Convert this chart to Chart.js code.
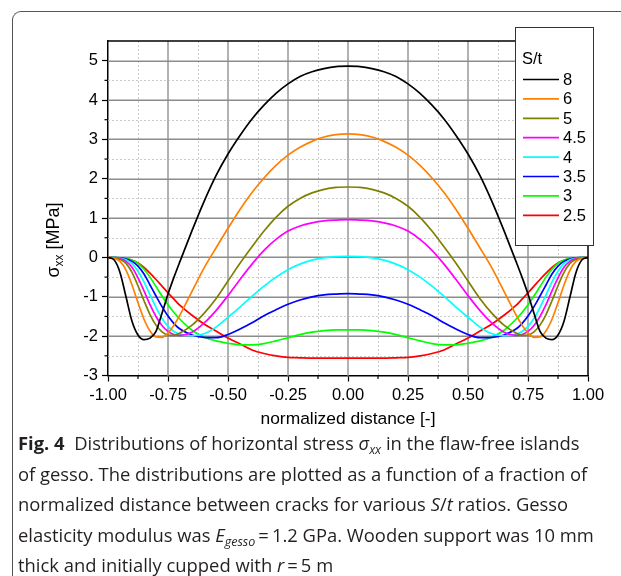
<!DOCTYPE html>
<html>
<head>
<meta charset="utf-8">
<script src="https://cdn.jsdelivr.net/npm/chart.js@4.4.0/dist/chart.umd.min.js"></script>
<style>
  html, body { margin: 0; padding: 0; background: #fff; }
  body { width: 621px; height: 576px; position: relative; overflow: hidden; }
  #frame { position: absolute; left: 12px; top: 11px; width: 640px; height: 600px;
    border-left: 1.3px solid #555; border-top: 1.3px solid #555;
    border-top-left-radius: 9px; box-sizing: border-box; }
  #chartBox { position: absolute; left: 0; top: 0; width: 621px; height: 440px; }
  #caption { position: absolute; left: 18px; top: 428px; font-family: 'Open Sans';
    font-size: 18.4px; line-height: 30.5px; color: #231f20; white-space: nowrap; }
  #caption sub { font-size: 0.68em; vertical-align: -0.35em; line-height: 0; }
</style>
</head>
<body>
<div id="frame"></div>
<div id="chartBox"><canvas id="graph" width="621" height="440"></canvas></div>
<div id="caption">
  <div><b>Fig. 4</b>&nbsp; Distributions of horizontal stress <i>σ<sub>xx</sub></i> in the flaw-free islands</div>
  <div>of gesso. The distributions are plotted as a function of a fraction of</div>
  <div>normalized distance between cracks for various <i>S</i>/<i>t</i> ratios. Gesso</div>
  <div>elasticity modulus was <i>E<sub>gesso</sub></i>&#8201;=&#8201;1.2 GPa. Wooden support was 10 mm</div>
  <div>thick and initially cupped with <i>r</i>&#8201;=&#8201;5 m</div>
</div>
<script>
// posiciones normalizadas (más densas cerca de los bordes)
const xValues = [-1, -0.975, -0.95, -0.925, -0.9, -0.875, -0.85, -0.825, -0.8, -0.775, -0.75, -0.725, -0.7,
  -0.65, -0.6, -0.55, -0.5, -0.45, -0.4, -0.35, -0.3, -0.25, -0.2, -0.15, -0.1, -0.05, 0,
  0.05, 0.1, 0.15, 0.2, 0.25, 0.3, 0.35, 0.4, 0.45, 0.5, 0.55, 0.6, 0.65,
  0.7, 0.725, 0.75, 0.775, 0.8, 0.825, 0.85, 0.875, 0.9, 0.925, 0.95, 0.975, 1];

// sigma_xx [MPa] para cada S/t
const st8 = [0, -0.06, -0.38, -1.0, -1.62, -1.97, -2.09, -2.05, -1.88, -1.42, -0.93, -0.5, -0.1,
  0.68, 1.42, 2.08, 2.63, 3.1, 3.52, 3.87, 4.17, 4.41, 4.6, 4.72, 4.8, 4.85, 4.86,
  4.85, 4.8, 4.72, 4.6, 4.41, 4.17, 3.87, 3.52, 3.1, 2.63, 2.08, 1.42, 0.68,
  -0.1, -0.5, -0.93, -1.42, -1.88, -2.05, -2.09, -1.97, -1.62, -1.0, -0.38, -0.06, 0];
const st6 = [0, -0.02, -0.1, -0.32, -0.7, -1.15, -1.57, -1.87, -2.02, -2.03, -1.92, -1.72, -1.46,
  -0.86, -0.27, 0.24, 0.74, 1.22, 1.65, 2.02, 2.34, 2.6, 2.8, 2.95, 3.06, 3.12, 3.14,
  3.12, 3.06, 2.95, 2.8, 2.6, 2.34, 2.02, 1.65, 1.22, 0.74, 0.24, -0.27, -0.86,
  -1.46, -1.72, -1.92, -2.03, -2.02, -1.87, -1.57, -1.15, -0.7, -0.32, -0.1, -0.02, 0];
const st5 = [0, -0.01, -0.05, -0.15, -0.38, -0.72, -1.1, -1.45, -1.72, -1.89, -1.97, -1.98, -1.92,
  -1.72, -1.42, -1.05, -0.6, -0.15, 0.27, 0.67, 1.02, 1.3, 1.5, 1.64, 1.73, 1.78, 1.79,
  1.78, 1.73, 1.64, 1.5, 1.3, 1.02, 0.67, 0.27, -0.15, -0.6, -1.05, -1.42, -1.72,
  -1.92, -1.98, -1.97, -1.89, -1.72, -1.45, -1.1, -0.72, -0.38, -0.15, -0.05, -0.01, 0];
const st45 = [0, -0.01, -0.03, -0.1, -0.25, -0.52, -0.85, -1.2, -1.5, -1.73, -1.88, -1.96, -1.98,
  -1.9, -1.67, -1.35, -0.97, -0.56, -0.17, 0.18, 0.46, 0.67, 0.8, 0.88, 0.93, 0.95, 0.96,
  0.95, 0.93, 0.88, 0.8, 0.67, 0.46, 0.18, -0.17, -0.56, -0.97, -1.35, -1.67, -1.9,
  -1.98, -1.96, -1.88, -1.73, -1.5, -1.2, -0.85, -0.52, -0.25, -0.1, -0.03, -0.01, 0];
const st4 = [0, -0.005, -0.02, -0.06, -0.16, -0.35, -0.62, -0.95, -1.27, -1.55, -1.75, -1.88, -1.95,
  -1.99, -1.94, -1.77, -1.52, -1.26, -0.99, -0.73, -0.5, -0.31, -0.17, -0.07, -0.01, 0.02, 0.03,
  0.02, -0.01, -0.07, -0.17, -0.31, -0.5, -0.73, -0.99, -1.26, -1.52, -1.77, -1.94, -1.99,
  -1.95, -1.88, -1.75, -1.55, -1.27, -0.95, -0.62, -0.35, -0.16, -0.06, -0.02, -0.005, 0];
const st35 = [0, -0.005, -0.01, -0.04, -0.1, -0.22, -0.42, -0.7, -0.98, -1.25, -1.49, -1.68, -1.82,
  -1.97, -2.03, -2.04, -1.96, -1.82, -1.66, -1.48, -1.33, -1.19, -1.08, -1.0, -0.95, -0.93, -0.92,
  -0.93, -0.95, -1.0, -1.08, -1.19, -1.33, -1.48, -1.66, -1.82, -1.96, -2.04, -2.03, -1.97,
  -1.82, -1.68, -1.49, -1.25, -0.98, -0.7, -0.42, -0.22, -0.1, -0.04, -0.01, -0.005, 0];
const st3 = [0, -0.003, -0.01, -0.03, -0.07, -0.15, -0.3, -0.5, -0.74, -0.98, -1.2, -1.4, -1.57,
  -1.85, -2.02, -2.12, -2.18, -2.22, -2.22, -2.19, -2.12, -2.04, -1.96, -1.9, -1.86, -1.84, -1.84,
  -1.84, -1.86, -1.9, -1.96, -2.04, -2.12, -2.19, -2.22, -2.22, -2.18, -2.12, -2.02, -1.85,
  -1.57, -1.4, -1.2, -0.98, -0.74, -0.5, -0.3, -0.15, -0.07, -0.03, -0.01, -0.003, 0];
const st25 = [0, -0.002, -0.01, -0.03, -0.07, -0.14, -0.25, -0.4, -0.56, -0.73, -0.9, -1.06, -1.22,
  -1.47, -1.69, -1.87, -2.05, -2.2, -2.35, -2.44, -2.5, -2.54, -2.55, -2.56, -2.56, -2.56, -2.56,
  -2.56, -2.56, -2.56, -2.55, -2.54, -2.5, -2.44, -2.35, -2.2, -2.05, -1.87, -1.69, -1.47,
  -1.22, -1.06, -0.9, -0.73, -0.56, -0.4, -0.25, -0.14, -0.07, -0.03, -0.01, -0.002, 0];

const seriesLabels = ['8', '6', '5', '4.5', '4', '3.5', '3', '2.5'];
const seriesData = [st8, st6, st5, st45, st4, st35, st3, st25];
const seriesColors = ['#000000', '#ff8000', '#808000', '#ff00ff', '#00ffff', '#0000ff', '#00ff00', '#ff0000'];

const xTicks = [-1, -0.75, -0.5, -0.25, 0, 0.25, 0.5, 0.75, 1];
const yTicks = [-3, -2, -1, 0, 1, 2, 3, 4, 5];
const xMinor = [-0.875, -0.625, -0.375, -0.125, 0.125, 0.375, 0.625, 0.875];
const yMinor = [-2.5, -1.5, -0.5, 0.5, 1.5, 2.5, 3.5, 4.5];

const FONT = '"Liberation Sans", Arial, sans-serif';

function linea(ctx, x1, y1, x2, y2) {
  ctx.beginPath(); ctx.moveTo(x1, y1); ctx.lineTo(x2, y2); ctx.stroke();
}

// rejilla, marco, leyenda y título del eje y
const decor = {
  id: 'decor',
  beforeDatasetsDraw(chart) {
    const { ctx, chartArea: a, scales: { x, y } } = chart;
    ctx.save();
    // rejilla menor punteada
    ctx.strokeStyle = '#cccccc';
    ctx.lineWidth = 1;
    ctx.setLineDash([2, 2]);
    xMinor.forEach(v => {
      const px = Math.round(x.getPixelForValue(v)) + 0.5;
      linea(ctx, px, a.top, px, a.bottom);
    });
    yMinor.forEach(v => {
      const py = Math.round(y.getPixelForValue(v)) + 0.5;
      linea(ctx, a.left, py, a.right, py);
    });
    ctx.setLineDash([]);
    // rejilla mayor continua
    ctx.strokeStyle = '#b2b2b2';
    ctx.lineWidth = 2;
    xTicks.slice(1, -1).forEach(v => {
      const px = Math.round(x.getPixelForValue(v));
      linea(ctx, px, a.top, px, a.bottom);
    });
    ctx.strokeStyle = '#8c8c8c';
    ctx.lineWidth = 1.5;
    yTicks.slice(1).forEach(v => {
      const py = Math.round(y.getPixelForValue(v)) + 0.25;
      linea(ctx, a.left, py, a.right, py);
    });
    // marcas menores
    ctx.strokeStyle = '#000';
    ctx.lineWidth = 1.2;
    xMinor.forEach(v => {
      const px = x.getPixelForValue(v);
      linea(ctx, px, a.bottom, px, a.bottom + 3.5);
    });
    yMinor.forEach(v => {
      const py = y.getPixelForValue(v);
      linea(ctx, a.left - 3.5, py, a.left, py);
    });
    ctx.restore();
  },
  afterDatasetsDraw(chart) {
    const { ctx, chartArea: a } = chart;
    ctx.save();
    ctx.strokeStyle = '#000';
    ctx.lineWidth = 1.5;
    ctx.beginPath();
    ctx.moveTo(a.left, a.top); ctx.lineTo(a.right, a.top); ctx.lineTo(a.right, a.bottom);
    ctx.stroke();
    ctx.restore();
  },
  afterDraw(chart) {
    const { ctx } = chart;
    ctx.save();
    // leyenda
    ctx.fillStyle = '#fff';
    ctx.fillRect(515, 27, 79, 219);
    ctx.strokeStyle = '#333';
    ctx.lineWidth = 1;
    ctx.strokeRect(515.5, 27.5, 78, 218);
    ctx.font = '16.5px ' + FONT;
    ctx.fillStyle = '#000';
    ctx.textBaseline = 'middle';
    ctx.fillText('S/t', 522, 59);
    chart.data.datasets.forEach((ds, i) => {
      const ly = 79.5 + i * 19.4;
      ctx.strokeStyle = ds.borderColor;
      ctx.lineWidth = 1.7;
      linea(ctx, 523, ly, 559, ly);
      ctx.fillStyle = '#000';
      ctx.fillText(ds.label, 563, ly + 1);
    });
    // título eje y: sigma con subíndice xx
    ctx.translate(53, 240);
    ctx.rotate(-Math.PI / 2);
    ctx.font = '18px ' + FONT;
    const wS = ctx.measureText('σ').width;
    const wU = ctx.measureText(' [MPa]').width;
    ctx.font = '12px ' + FONT;
    const wX = ctx.measureText('xx').width;
    let cx = -(wS + wX + wU) / 2;
    ctx.textBaseline = 'alphabetic';
    ctx.font = '18px ' + FONT;
    ctx.fillText('σ', cx, 6);
    cx += wS;
    ctx.font = '12px ' + FONT;
    ctx.fillText('xx', cx, 10);
    cx += wX;
    ctx.font = '18px ' + FONT;
    ctx.fillText(' [MPa]', cx, 6);
    ctx.restore();
  }
};

function buildDatasets() {
  return seriesData.map((ys, i) => ({
    label: seriesLabels[i],
    data: xValues.map((x, j) => ({ x, y: ys[j] })),
    borderColor: seriesColors[i],
    backgroundColor: seriesColors[i],
    borderWidth: 1.7,
    pointRadius: 0,
    cubicInterpolationMode: 'monotone',
    fill: false
  }));
}

const ctx = document.getElementById('graph').getContext('2d');
new Chart(ctx, {
  type: 'line',
  data: { datasets: buildDatasets() },
  options: {
    responsive: false,
    animation: false,
    layout: { padding: { top: 41, right: 33, left: 0, bottom: 0 } },
    plugins: { legend: { display: false }, tooltip: { enabled: false } },
    scales: {
      x: {
        type: 'linear',
        min: -1, max: 1,
        afterBuildTicks: s => { s.ticks = xTicks.map(v => ({ value: v })); },
        afterFit: s => { s.height = 64.5; },
        ticks: {
          color: '#000', padding: 4, maxRotation: 0,
          font: { family: FONT, size: 16.5 },
          callback: v => v.toFixed(2)
        },
        grid: { drawOnChartArea: false, color: '#000', tickColor: '#000', tickLength: 6, tickWidth: 1.2 },
        border: { color: '#000', width: 1.5 },
        title: {
          display: true, text: 'normalized distance [-]', color: '#000',
          font: { family: FONT, size: 17.4 }, padding: { top: 0, bottom: 10 }
        }
      },
      y: {
        type: 'linear',
        min: -3, max: 5.5,
        afterBuildTicks: s => { s.ticks = yTicks.map(v => ({ value: v })); },
        afterFit: s => { s.width = 108; },
        ticks: {
          color: '#000', padding: 4,
          font: { family: FONT, size: 16.5 },
          callback: v => String(v)
        },
        grid: { drawOnChartArea: false, color: '#000', tickColor: '#000', tickLength: 6, tickWidth: 1.2 },
        border: { color: '#000', width: 1.5 }
      }
    }
  },
  plugins: [decor]
});
</script>
</body>
</html>
